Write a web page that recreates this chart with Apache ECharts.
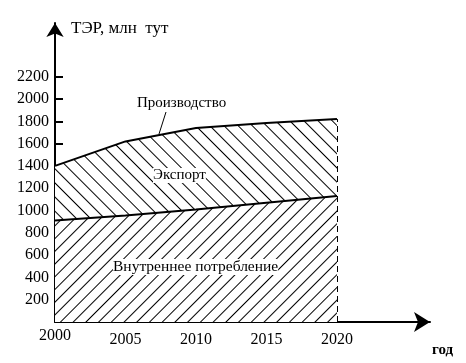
<!DOCTYPE html>
<html><head><meta charset="utf-8">
<script src="https://cdn.jsdelivr.net/npm/echarts@6/dist/echarts.min.js"></script>
<style>html,body{margin:0;padding:0;background:#fff}#c{width:466px;height:363px}</style>
</head><body><div id="c"></div>
<script>
const years = [2000, 2005, 2010, 2015, 2020];
const domestic = [910, 955, 1010, 1070, 1130];
const production = [1400, 1620, 1740, 1785, 1820];
const yTicks = [200, 400, 600, 800, 1000, 1200, 1400, 1600, 1800, 2000, 2200];
const xTicks = [2000, 2005, 2010, 2015, 2020];

const font = 'Liberation Serif';
const hatch = (rot, gap) => ({symbol: 'rect', symbolSize: 1, color: '#000', backgroundColor: '#fff',
  dashArrayX: [1, 0], dashArrayY: [1, gap], rotation: rot});
const chart = echarts.init(document.getElementById('c'));
chart.setOption({
  animation: false,
  backgroundColor: '#fff',
  grid: {left: 55, right: 36, top: 23, bottom: 41},
  xAxis: {
    type: 'value', min: 2000, max: 2026.6,
    splitLine: {show: false},
    axisLine: {lineStyle: {color: '#000', width: 2}, symbol: ['none', 'arrow'], symbolSize: [15, 16]},
    axisTick: {customValues: xTicks, inside: true, length: 5, lineStyle: {color: '#000', width: 2}},
    axisLabel: {customValues: xTicks, color: '#000', fontFamily: font, fontSize: 16, margin: 6,
      formatter: v => v === 2000 ? '{a|' + v + '}' : '{b|' + v + '}',
      rich: {a: {fontFamily: font, fontSize: 16, color: '#000'},
             b: {fontFamily: font, fontSize: 16, color: '#000', padding: [4, 0, 0, 0]}}}
  },
  yAxis: {
    type: 'value', min: 0, max: 2682,
    splitLine: {show: false},
    axisLine: {lineStyle: {color: '#000', width: 2}, symbol: ['none', 'arrow'], symbolSize: [13, 14]},
    axisTick: {customValues: yTicks, inside: true, length: 8, lineStyle: {color: '#000', width: 2}},
    axisLabel: {customValues: yTicks, color: '#000', fontFamily: font, fontSize: 16, margin: 6, formatter: v => String(v)}
  },
  series: [
    {
      name: 'Производство', type: 'line', data: years.map((y, i) => [y, production[i]]),
      symbol: 'none', lineStyle: {color: '#000', width: 2},
      itemStyle: {color: '#fff', decal: hatch(Math.PI / 4, 8.5)},
      areaStyle: {color: '#fff', opacity: 1},
      markLine: {silent: true, symbol: 'none', label: {show: false},
        lineStyle: {color: '#000', type: [6, 4], width: 1},
        data: [[{coord: [2020, 0]}, {coord: [2020, 1820]}]]}
    },
    {
      name: 'Внутреннее потребление', type: 'line', data: years.map((y, i) => [y, domestic[i]]),
      symbol: 'none', lineStyle: {color: '#000', width: 2},
      itemStyle: {color: '#fff', decal: hatch(-Math.PI / 4, 8)},
      areaStyle: {color: '#fff', opacity: 1}
    }
  ],
  graphic: [
    {type: 'text', left: 71, top: 20, style: {text: 'ТЭР, млн  тут', font: '17px "Liberation Serif"', fill: '#000'}},
    {type: 'text', left: 432, top: 343, style: {text: 'год', font: 'bold 15px "Liberation Serif"', fill: '#000'}},
    {type: 'text', left: 137, top: 96, style: {text: 'Производство', font: '15px "Liberation Serif"', fill: '#000'}},
    {type: 'line', shape: {x1: 166, y1: 112, x2: 159, y2: 134}, style: {stroke: '#000', lineWidth: 1}},
    {type: 'text', left: 153, top: 168, z: 10, style: {text: 'Экспорт', font: '15px "Liberation Serif"', fill: '#000', backgroundColor: '#fff'}},
    {type: 'text', left: 113, top: 259, z: 10, style: {text: 'Внутреннее потребление', font: '15.5px "Liberation Serif"', fill: '#000', backgroundColor: '#fff'}}
  ]
});
</script></body></html>
